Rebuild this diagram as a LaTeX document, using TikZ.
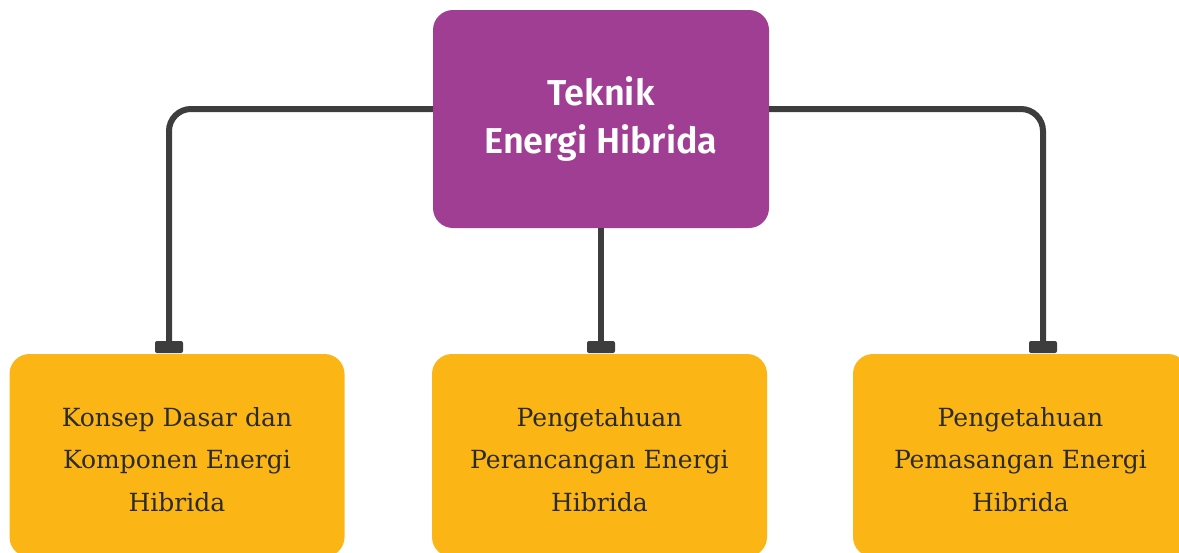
\documentclass[tikz,border=0pt]{standalone}
\usepackage{fontspec}
\setmainfont{DejaVu Serif}
\newfontfamily\headfont{Fira Sans}[UprightFont=* SemiBold]
\definecolor{plum}{HTML}{A03E94}
\definecolor{amber}{HTML}{FBB615}
\definecolor{wire}{HTML}{3D3D3D}
\definecolor{ink}{HTML}{2B2B2B}
\begin{document}
\begin{tikzpicture}[x=1pt,y=-1pt,
  rootbox/.style={fill=plum, rounded corners=20pt, minimum width=336pt, minimum height=218pt,
    inner sep=0pt, text=white, align=center,
    font=\headfont\fontsize{36}{48}\selectfont},
  leafbox/.style={fill=amber, rounded corners=20pt, minimum width=335pt, minimum height=203pt,
    inner sep=0pt},
  leaftext/.style={inner sep=0pt, text=ink, align=center,
    font=\fontsize{25}{42.5}\selectfont},
  capbox/.style={fill=wire, rounded corners=2pt, minimum width=28pt, minimum height=12pt, inner sep=0pt},
  link/.style={draw=wire, line width=6pt, rounded corners=22pt}]
\useasboundingbox (0,0) rectangle (1179,552);
\clip (0,0) rectangle (1179,552);

% root box
\node[rootbox] (root) at (601,119) {Teknik\\Energi Hibrida};

% leaf boxes, running past the lower edge
\node[leafbox] (leafA) at (177,455.5) {};
\node[leafbox] (leafB) at (599.5,455.5) {};
\node[leafbox] (leafC) at (1020.5,455.5) {};
\node[leaftext] (textA) at ([yshift=-4pt]leafA.center) {Konsep Dasar dan\\Komponen Energi\\Hibrida};
\node[leaftext] (textB) at ([yshift=-4pt]leafB.center) {Pengetahuan\\Perancangan Energi\\Hibrida};
\node[leaftext] (textC) at ([yshift=-4pt]leafC.center) {Pengetahuan\\Pemasangan Energi\\Hibrida};

% connector end caps
\node[capbox] (capA) at (169,347) {};
\node[capbox] (capB) at (601,347) {};
\node[capbox] (capC) at (1043,347) {};

% connectors
\draw[link] ([yshift=10pt]root.west) -| (capA.north);
\draw[link] (root.south) -- (capB.north);
\draw[link] ([yshift=10pt]root.east) -| (capC.north);
\end{tikzpicture}
\end{document}
